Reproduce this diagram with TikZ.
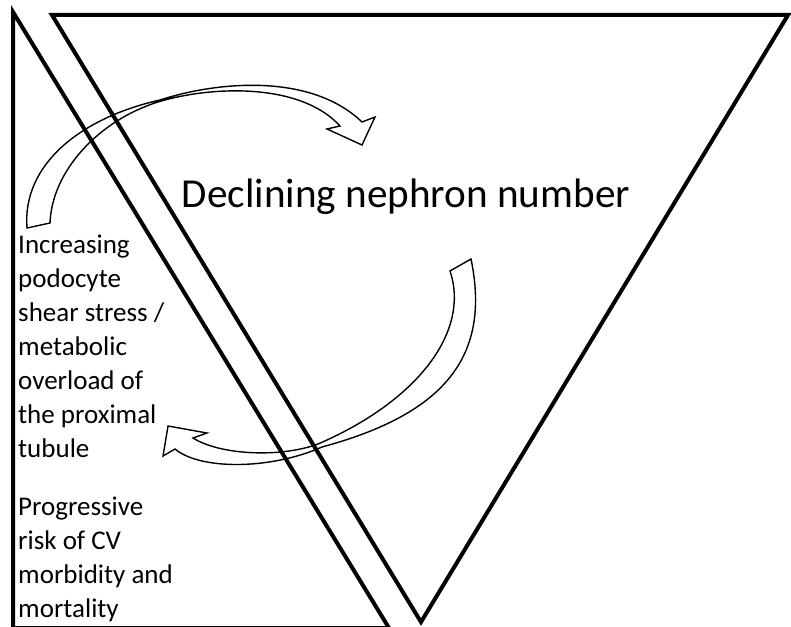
\documentclass[tikz,border=0pt]{standalone}
\usepackage{fontspec}
\setmainfont{Carlito}
\usetikzlibrary{positioning}

\begin{document}
\begin{tikzpicture}[
  x=1pt,y=-1pt,
  frame/.style={draw=black,line width=4pt,line join=miter},
  bandarrow/.style={draw=black,line width=1.4pt,line join=miter},
  bigtext/.style={font=\fontsize{41.2}{48}\selectfont,inner sep=0pt,anchor=base},
  sidetext/.style={font=\fontsize{27}{34}\selectfont,align=left,inner sep=0pt,anchor=base west}
]
\useasboundingbox (0,0) rectangle (791,626);

% Curved arrow, upper (towards the centre)
\draw[bandarrow] (27,228) .. controls (22,165) and (80,118) .. (160,100)
  .. controls (215,82) and (310,72) .. (362,122)
  -- (375,117) -- (362,145) -- (327,129) -- (340,126)
  .. controls (300,82) and (210,86) .. (158,102)
  .. controls (100,120) and (52,170) .. (50,223) -- cycle;

% Curved arrow, lower (back to the side)
\draw[bandarrow] (471,259) .. controls (492,360) and (440,415) .. (322,447)
  .. controls (270,470) and (200,470) .. (175,449)
  -- (163,456) -- (168,426) -- (207,433) -- (193,438)
  .. controls (220,455) and (280,458) .. (318,444)
  .. controls (420,400) and (470,330) .. (450,271) -- cycle;

% Side triangle
\coordinate (stop) at (13,12);
\coordinate (sbot) at (13,628);
\coordinate (sfoot) at (389,628);
\draw[frame] (sfoot) -- (stop) -- (sbot) -- cycle;

% Inverted triangle
\coordinate (tl) at (52,15);
\coordinate (tr) at (788,15);
\coordinate (apex) at (421,622);
\draw[frame] (tl) -- (tr) -- (apex) -- cycle;

% Labels (base = last line)
\node[bigtext] (decline) at (406,207) {Declining nephron number};
\node[sidetext] (stress) at (18,457) {Increasing\\podocyte\\shear stress /\\metabolic\\overload of\\the proximal\\tubule};
\node[sidetext] (risk) at (18,617) {Progressive\\risk of CV\\morbidity and\\mortality};
\end{tikzpicture}
\end{document}
